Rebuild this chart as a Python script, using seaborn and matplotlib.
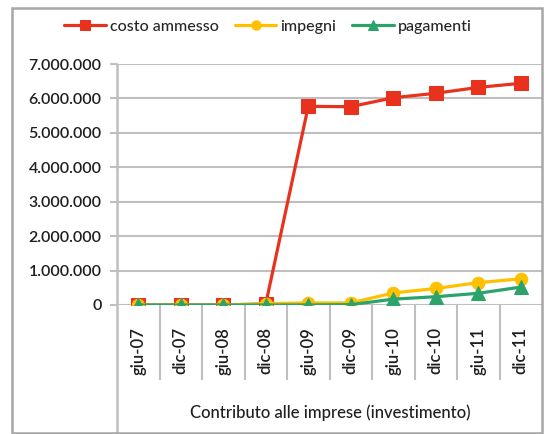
import numpy as np
import pandas as pd
import matplotlib
matplotlib.use("Agg")
import matplotlib.pyplot as plt
from matplotlib.patches import Rectangle
from matplotlib.ticker import FuncFormatter
import seaborn as sns

# Data
periods = ["giu-07", "dic-07", "giu-08", "dic-08", "giu-09",
           "dic-09", "giu-10", "dic-10", "giu-11", "dic-11"]
costo_ammesso = [0, 0, 0, 30000, 5770000, 5760000, 6020000, 6150000, 6320000, 6440000]
impegni = [0, 0, 0, 40000, 60000, 60000, 350000, 480000, 650000, 760000]
pagamenti = [0, 0, 0, 0, 0, 10000, 170000, 240000, 340000, 520000]
series_names = ["costo ammesso", "impegni", "pagamenti"]
x_title = "Contributo alle imprese (investimento)"

colors = {"costo ammesso": "#E8321E", "impegni": "#FFC000", "pagamenti": "#2BA36B"}
markers = {"costo ammesso": "s", "impegni": "o", "pagamenti": "^"}
msizes = {"costo ammesso": 10, "impegni": 9, "pagamenti": 9.5}

df = pd.DataFrame({
    "pos": np.tile(np.arange(len(periods)), 3),
    "value": costo_ammesso + impegni + pagamenti,
    "serie": np.repeat(series_names, len(periods)),
})

sns.set_style("white")
plt.rcParams["font.family"] = ["Lato", "DejaVu Sans"]
plt.rcParams["font.weight"] = "medium"
txt_c = "#1E1E1E"

fig = plt.figure(figsize=(5.46, 4.34), dpi=100)
ax = fig.add_axes([117 / 546, 1 - 305 / 434, 425 / 546, 241 / 434])

grid_c = "#BFBFBF"
for y in range(0, 8000000, 1000000):
    ax.axhline(y, color=grid_c, lw=1.5, zorder=0)

for name in series_names:
    sub = df[df["serie"] == name]
    sns.lineplot(data=sub, x="pos", y="value", ax=ax, color=colors[name],
                 marker=markers[name], markersize=msizes[name],
                 markeredgecolor=colors[name], lw=2.3, label=name,
                 sort=False, zorder=3)

ax.set_xlim(-0.5, len(periods) - 0.5)
ax.set_ylim(0, 7000000)
ax.set_yticks(range(0, 8000000, 1000000))
ax.yaxis.set_major_formatter(FuncFormatter(lambda v, p: f"{int(v):,}".replace(",", ".")))
ax.set_xticks(np.arange(len(periods)))
ax.set_xticklabels(periods, rotation=90)
ax.set_xlabel("")
ax.set_ylabel("")
for s in ax.spines.values():
    s.set_visible(False)
ax.tick_params(axis="x", length=0, pad=16, labelsize=12, labelcolor=txt_c)
ax.tick_params(axis="y", length=5, color=grid_c, width=1.5, left=True,
               pad=6, labelsize=11.5, labelcolor=txt_c)
for lab in ax.get_xticklabels() + ax.get_yticklabels():
    lab.set_fontweight("semibold")

# category separators below the axis
xt = ax.get_xaxis_transform()
ax.vlines(np.arange(len(periods) - 1) + 0.5, -0.31, 0, transform=xt,
          color=grid_c, lw=1.5, clip_on=False)
ax.plot([-0.5, -0.5], [-0.53, 1], transform=xt, color=grid_c, lw=1.8, clip_on=False)

# outer frame
fig.patches.append(Rectangle((12 / 546, 1 / 434), 530 / 546, 425 / 434,
                             transform=fig.transFigure, fill=False,
                             edgecolor="#A6A6A6", lw=1.8))

fig.text(330 / 546, 1 - 413 / 434, x_title, ha="center", va="center",
         fontsize=12, color=txt_c)

ax.legend(loc="center", bbox_to_anchor=(268 / 546, 1 - 27 / 434), bbox_transform=fig.transFigure,
          ncol=3, frameon=False, fontsize=11.5, handlelength=2.6, columnspacing=1.0,
          handletextpad=0.25, markerscale=0.75)

fig.savefig("out.png", dpi=100)
